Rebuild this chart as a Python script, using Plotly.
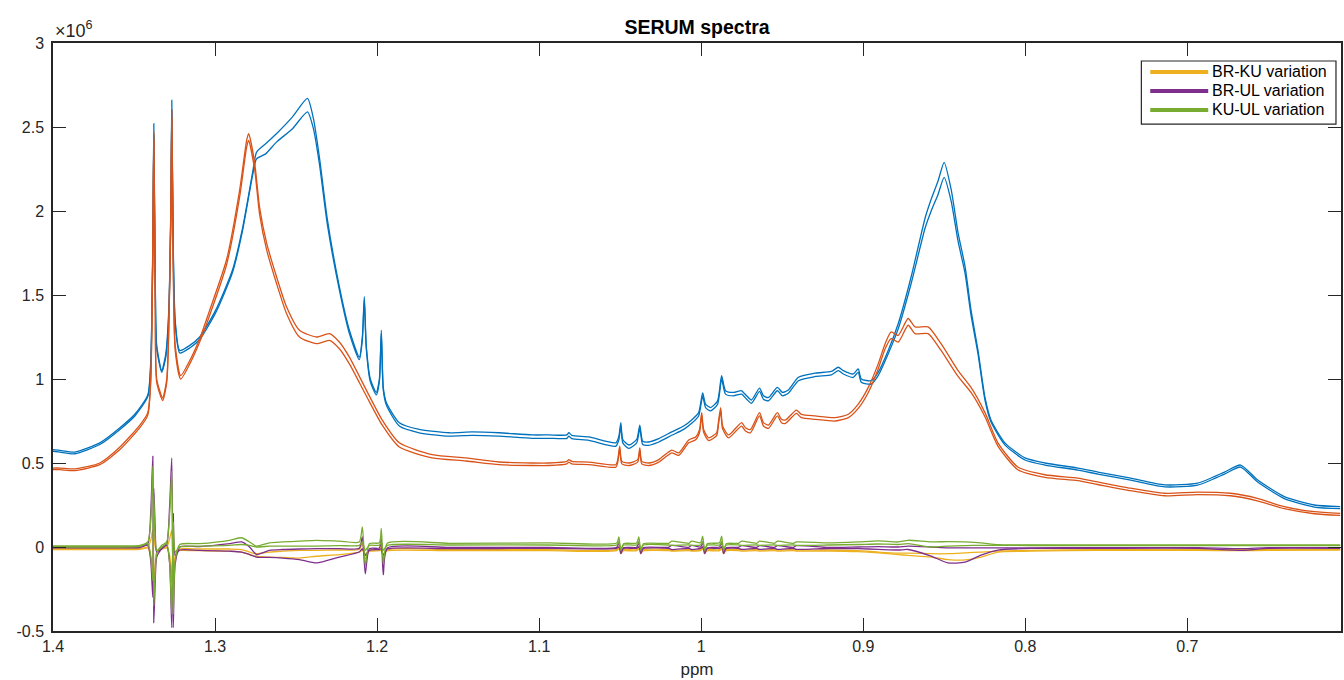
import plotly.graph_objects as go

# ---------------- data (intensity in units of 1e6) ----------------
blue_ppm = [1.4000, 1.3957, 1.3865, 1.3711, 1.3587, 1.3495, 1.3415, 1.3397, 1.3384, 1.3378,
            1.3369, 1.3360, 1.3329, 1.3304, 1.3286, 1.3273, 1.3267, 1.3258, 1.3246, 1.3218,
            1.3156, 1.3095, 1.2996, 1.2892, 1.2830, 1.2768, 1.2744, 1.2688, 1.2621, 1.2522,
            1.2430, 1.2393, 1.2356, 1.2307, 1.2233, 1.2171, 1.2110, 1.2091, 1.2079, 1.2067,
            1.2042, 1.2005, 1.1986, 1.1974, 1.1962, 1.1943, 1.1863, 1.1740, 1.1555, 1.1414,
            1.1248, 1.1044, 1.0940, 1.0829, 1.0817, 1.0798, 1.0693, 1.0527, 1.0508, 1.0496,
            1.0484, 1.0447, 1.0398, 1.0379, 1.0361, 1.0324, 1.0262, 1.0182, 1.0108, 1.0059,
            1.0016, 0.9991, 0.9973, 0.9942, 0.9899, 0.9874, 0.9850, 0.9800, 0.9751, 0.9720,
            0.9690, 0.9640, 0.9616, 0.9585, 0.9530, 0.9499, 0.9462, 0.9400, 0.9296, 0.9197,
            0.9154, 0.9123, 0.9062, 0.9031, 0.9012, 0.8951, 0.8908, 0.8846, 0.8784, 0.8704,
            0.8618, 0.8581, 0.8538, 0.8501, 0.8458, 0.8415, 0.8372, 0.8335, 0.8292, 0.8249,
            0.8212, 0.8126, 0.8002, 0.7879, 0.7676, 0.7553, 0.7350, 0.7140, 0.6937, 0.6771,
            0.6672, 0.6568, 0.6402, 0.6217, 0.6057]
blue_hi = [0.58, 0.575, 0.565, 0.62, 0.71, 0.79, 0.905, 1.10, 1.80, 2.52,
           1.60, 1.20, 1.05, 1.15, 1.40, 2.00, 2.66, 1.80, 1.35, 1.17,
           1.20, 1.25, 1.41, 1.65, 1.90, 2.23, 2.35, 2.40, 2.46, 2.56,
           2.67, 2.55, 2.32, 1.95, 1.55, 1.29, 1.13, 1.25, 1.49, 1.20,
           1.00, 0.92, 1.00, 1.29, 0.95, 0.86, 0.74, 0.70, 0.68, 0.685,
           0.68, 0.667, 0.667, 0.667, 0.68, 0.665, 0.655, 0.62, 0.66, 0.74,
           0.64, 0.607, 0.64, 0.726, 0.63, 0.625, 0.645, 0.685, 0.72, 0.756,
           0.80, 0.917, 0.85, 0.83, 0.87, 1.02, 0.93, 0.92, 0.93, 0.90,
           0.875, 0.946, 0.90, 0.89, 0.95, 0.92, 0.935, 1.01, 1.035, 1.045,
           1.07, 1.05, 1.03, 1.06, 1.00, 0.99, 1.04, 1.17, 1.33, 1.61,
           1.96, 2.07, 2.18, 2.29, 2.13, 1.87, 1.67, 1.41, 1.17, 0.89,
           0.756, 0.62, 0.53, 0.50, 0.47, 0.446, 0.41, 0.37, 0.38, 0.446,
           0.488, 0.40, 0.30, 0.25, 0.24]
blue_lo = [0.57, 0.565, 0.555, 0.61, 0.70, 0.78, 0.895, 1.08, 1.75, 2.45,
           1.55, 1.18, 1.04, 1.13, 1.37, 1.95, 2.60, 1.75, 1.33, 1.155,
           1.185, 1.235, 1.395, 1.635, 1.885, 2.215, 2.31, 2.34, 2.41, 2.49,
           2.59, 2.49, 2.28, 1.92, 1.53, 1.27, 1.115, 1.235, 1.47, 1.185,
           0.985, 0.905, 0.985, 1.27, 0.935, 0.845, 0.72, 0.68, 0.66, 0.665,
           0.66, 0.647, 0.647, 0.647, 0.66, 0.645, 0.635, 0.60, 0.64, 0.72,
           0.62, 0.587, 0.62, 0.706, 0.61, 0.605, 0.625, 0.665, 0.70, 0.736,
           0.78, 0.897, 0.83, 0.81, 0.85, 1.00, 0.91, 0.90, 0.91, 0.88,
           0.855, 0.926, 0.88, 0.87, 0.93, 0.90, 0.915, 0.99, 1.015, 1.025,
           1.05, 1.03, 1.01, 1.04, 0.98, 0.97, 1.02, 1.15, 1.30, 1.57,
           1.90, 2.00, 2.10, 2.20, 2.06, 1.82, 1.63, 1.38, 1.15, 0.875,
           0.745, 0.608, 0.518, 0.488, 0.458, 0.434, 0.398, 0.358, 0.368, 0.434,
           0.476, 0.388, 0.288, 0.238, 0.228]

orange_ppm = [1.4000, 1.3957, 1.3865, 1.3711, 1.3587, 1.3464, 1.3415, 1.3397, 1.3384, 1.3378,
              1.3369, 1.3360, 1.3323, 1.3298, 1.3286, 1.3273, 1.3267, 1.3258, 1.3246, 1.3212,
              1.3156, 1.3095, 1.3033, 1.2929, 1.2849, 1.2805, 1.2793, 1.2756, 1.2725, 1.2682,
              1.2621, 1.2559, 1.2479, 1.2374, 1.2294, 1.2233, 1.2171, 1.2067, 1.1968, 1.1863,
              1.1660, 1.1451, 1.1248, 1.1044, 1.0940, 1.0829, 1.0817, 1.0798, 1.0693, 1.0527,
              1.0515, 1.0503, 1.0490, 1.0447, 1.0392, 1.0379, 1.0367, 1.0324, 1.0262, 1.0182,
              1.0139, 1.0077, 1.0034, 1.0010, 0.9997, 0.9985, 0.9954, 0.9905, 0.9893, 0.9880,
              0.9868, 0.9831, 0.9751, 0.9727, 0.9696, 0.9640, 0.9616, 0.9585, 0.9530, 0.9505,
              0.9480, 0.9413, 0.9382, 0.9296, 0.9172, 0.9092, 0.9031, 0.8969, 0.8908, 0.8865,
              0.8828, 0.8784, 0.8723, 0.8680, 0.8600, 0.8520, 0.8415, 0.8335, 0.8249, 0.8169,
              0.8046, 0.7879, 0.7676, 0.7553, 0.7350, 0.7140, 0.6937, 0.6734, 0.6568, 0.6402,
              0.6217, 0.6057]
orange_hi = [0.47, 0.47, 0.465, 0.50, 0.595, 0.726, 0.80, 1.00, 1.80, 2.47,
             1.50, 1.00, 0.887, 1.00, 1.30, 2.00, 2.60, 1.70, 1.20, 1.02,
             1.11, 1.24, 1.41, 1.71, 2.12, 2.42, 2.46, 2.29, 2.02, 1.81,
             1.61, 1.43, 1.29, 1.25, 1.27, 1.22, 1.13, 0.935, 0.755, 0.62,
             0.55, 0.53, 0.506, 0.50, 0.50, 0.51, 0.52, 0.51, 0.505, 0.49,
             0.52, 0.60, 0.51, 0.50, 0.52, 0.59, 0.51, 0.50, 0.52, 0.577,
             0.56, 0.637, 0.655, 0.70, 0.80, 0.70, 0.65, 0.68, 0.75, 0.83,
             0.72, 0.667, 0.74, 0.71, 0.70, 0.80, 0.74, 0.726, 0.80, 0.76,
             0.756, 0.815, 0.79, 0.78, 0.77, 0.79, 0.85, 0.95, 1.09, 1.21,
             1.28, 1.26, 1.36, 1.31, 1.31, 1.21, 1.05, 0.95, 0.80, 0.62,
             0.476, 0.43, 0.41, 0.387, 0.35, 0.32, 0.327, 0.32, 0.29, 0.24,
             0.21, 0.20]
orange_lo = [0.46, 0.46, 0.455, 0.49, 0.58, 0.71, 0.785, 0.98, 1.75, 2.42,
             1.45, 0.98, 0.872, 0.98, 1.27, 1.95, 2.55, 1.65, 1.17, 1.00,
             1.09, 1.22, 1.38, 1.68, 2.08, 2.38, 2.42, 2.25, 1.98, 1.77,
             1.57, 1.39, 1.25, 1.21, 1.23, 1.18, 1.09, 0.90, 0.725, 0.595,
             0.53, 0.512, 0.49, 0.485, 0.485, 0.495, 0.505, 0.495, 0.49, 0.475,
             0.505, 0.585, 0.495, 0.485, 0.505, 0.575, 0.495, 0.485, 0.505, 0.56,
             0.545, 0.62, 0.638, 0.683, 0.783, 0.683, 0.633, 0.663, 0.733, 0.813,
             0.703, 0.65, 0.72, 0.69, 0.68, 0.78, 0.72, 0.706, 0.78, 0.74,
             0.736, 0.795, 0.77, 0.76, 0.75, 0.77, 0.825, 0.92, 1.06, 1.18,
             1.24, 1.22, 1.32, 1.27, 1.27, 1.17, 1.015, 0.92, 0.775, 0.60,
             0.46, 0.415, 0.395, 0.372, 0.335, 0.305, 0.312, 0.305, 0.275, 0.228,
             0.198, 0.188]

var_ppm = [1.4000, 1.3711, 1.3464, 1.3415, 1.3397, 1.3384, 1.3378, 1.3369, 1.3360, 1.3329,
           1.3298, 1.3280, 1.3267, 1.3258, 1.3246, 1.3218, 1.3095, 1.2910, 1.2836, 1.2787,
           1.2744, 1.2664, 1.2584, 1.2479, 1.2374, 1.2233, 1.2110, 1.2091, 1.2073, 1.2048,
           1.1986, 1.1974, 1.1962, 1.1937, 1.1555, 1.0940, 1.0521, 1.0508, 1.0496, 1.0478,
           1.0398, 1.0385, 1.0373, 1.0355, 1.0201, 1.0182, 1.0077, 1.0059, 1.0004, 0.9991,
           0.9979, 0.9961, 0.9887, 0.9874, 0.9862, 0.9844, 0.9770, 0.9751, 0.9659, 0.9640,
           0.9548, 0.9530, 0.9431, 0.9413, 0.9216, 0.9031, 0.8908, 0.8784, 0.8723, 0.8581,
           0.8477, 0.8372, 0.8273, 0.8169, 0.7966, 0.7553, 0.6937, 0.6660, 0.6506, 0.6057]
brku_a = [-0.010, -0.010, -0.008, 0.000, 0.040, 0.100, -0.200, -0.100, -0.030, -0.010,
          0.000, 0.050, 0.100, -0.200, -0.050, -0.012, -0.012, -0.012, -0.015, -0.030,
          -0.040, -0.030, -0.025, -0.020, -0.020, -0.018, -0.015, 0.020, -0.070, -0.020,
          -0.015, 0.020, -0.070, -0.018, -0.016, -0.016, -0.016, 0.000, -0.040, -0.016,
          -0.016, 0.000, -0.040, -0.016, -0.016, -0.020, -0.016, -0.020, -0.016, 0.000,
          -0.040, -0.016, -0.016, 0.000, -0.040, -0.016, -0.016, -0.018, -0.016, -0.018,
          -0.016, -0.018, -0.016, -0.018, -0.018, -0.022, -0.030, -0.036, -0.036, -0.040,
          -0.040, -0.035, -0.030, -0.025, -0.020, -0.016, -0.015, -0.016, -0.015, -0.014]
brku_b = [-0.016, -0.016, -0.014, -0.006, -0.060, -0.230, 0.080, 0.000, -0.020, -0.012,
          -0.005, -0.050, -0.210, 0.000, -0.030, -0.020, -0.022, -0.025, -0.030, -0.045,
          -0.055, -0.060, -0.062, -0.066, -0.055, -0.045, -0.030, -0.020, -0.040, -0.025,
          -0.022, -0.020, -0.040, -0.022, -0.022, -0.022, -0.022, -0.010, -0.030, -0.022,
          -0.022, -0.010, -0.030, -0.022, -0.022, -0.024, -0.022, -0.024, -0.022, -0.010,
          -0.030, -0.022, -0.022, -0.010, -0.030, -0.022, -0.022, -0.024, -0.022, -0.024,
          -0.022, -0.024, -0.022, -0.024, -0.024, -0.028, -0.035, -0.045, -0.050, -0.060,
          -0.075, -0.077, -0.060, -0.030, -0.025, -0.020, -0.020, -0.022, -0.020, -0.018]
brul_a = [0.000, 0.000, 0.004, 0.020, 0.200, 0.540, -0.450, -0.200, -0.060, -0.010,
          0.020, 0.250, 0.530, -0.480, -0.100, 0.000, 0.002, 0.020, 0.030, 0.000,
          -0.045, -0.020, -0.015, -0.012, -0.010, -0.010, -0.008, 0.060, -0.160, -0.010,
          -0.006, 0.050, -0.165, -0.006, -0.003, -0.002, -0.002, 0.030, -0.040, -0.004,
          -0.002, 0.030, -0.040, -0.004, -0.002, 0.010, -0.002, 0.010, 0.000, 0.030,
          -0.040, -0.004, 0.000, 0.030, -0.040, -0.004, -0.002, 0.008, -0.002, 0.008,
          -0.002, 0.008, -0.002, 0.008, -0.003, 0.000, 0.002, 0.000, 0.005, 0.000,
          -0.005, -0.005, -0.005, -0.005, -0.005, -0.004, -0.004, -0.010, -0.004, -0.004]
brul_b = [-0.005, -0.005, -0.003, 0.010, -0.080, -0.300, 0.350, 0.100, -0.030, -0.010,
          0.010, -0.100, -0.480, 0.200, -0.050, -0.018, -0.020, -0.025, -0.030, -0.045,
          -0.060, -0.062, -0.066, -0.075, -0.095, -0.060, -0.030, -0.010, -0.050, -0.020,
          -0.015, -0.010, -0.050, -0.012, -0.010, -0.008, -0.008, 0.000, -0.020, -0.008,
          -0.008, 0.000, -0.020, -0.008, -0.008, -0.015, -0.008, -0.015, -0.008, 0.000,
          -0.020, -0.008, -0.008, 0.000, -0.020, -0.008, -0.008, -0.014, -0.008, -0.014,
          -0.008, -0.014, -0.008, -0.014, -0.009, -0.010, -0.014, -0.018, -0.015, -0.054,
          -0.095, -0.090, -0.048, -0.018, -0.008, -0.008, -0.008, -0.020, -0.008, -0.008]
kuul_a = [0.006, 0.006, 0.010, 0.030, 0.150, 0.480, -0.350, -0.150, -0.040, 0.010,
          0.030, 0.200, 0.450, -0.400, -0.080, 0.015, 0.020, 0.040, 0.055, 0.030,
          0.005, 0.025, 0.030, 0.035, 0.040, 0.035, 0.030, 0.120, -0.110, 0.020,
          0.025, 0.110, -0.100, 0.022, 0.022, 0.024, 0.024, 0.060, -0.020, 0.020,
          0.024, 0.060, -0.020, 0.020, 0.022, 0.035, 0.022, 0.035, 0.025, 0.065,
          -0.020, 0.020, 0.025, 0.065, -0.020, 0.020, 0.022, 0.035, 0.022, 0.035,
          0.022, 0.035, 0.022, 0.030, 0.024, 0.030, 0.036, 0.030, 0.040, 0.030,
          0.032, 0.030, 0.025, 0.014, 0.013, 0.012, 0.012, 0.012, 0.012, 0.012]
kuul_b = [0.000, 0.000, 0.004, 0.020, -0.050, -0.200, 0.300, 0.050, -0.020, 0.000,
          0.020, -0.100, -0.400, 0.150, -0.030, 0.000, 0.005, 0.010, 0.015, 0.010,
          0.000, 0.005, 0.005, 0.005, 0.005, 0.008, 0.010, 0.030, -0.020, 0.010,
          0.010, 0.030, -0.020, 0.010, 0.012, 0.012, 0.012, 0.030, -0.010, 0.012,
          0.012, 0.030, -0.010, 0.012, 0.012, 0.010, 0.012, 0.010, 0.012, 0.030,
          -0.010, 0.012, 0.012, 0.030, -0.010, 0.012, 0.012, 0.010, 0.012, 0.010,
          0.012, 0.010, 0.012, 0.010, 0.012, 0.015, 0.018, 0.015, 0.020, 0.000,
          0.005, 0.008, 0.010, 0.010, 0.009, 0.008, 0.008, 0.008, 0.008, 0.008]

legend_names = ["BR-KU variation", "BR-UL variation", "KU-UL variation"]
x_ticks = [1.4, 1.3, 1.2, 1.1, 1.0, 0.9, 0.8, 0.7]
x_tick_text = ["1.4", "1.3", "1.2", "1.1", "1", "0.9", "0.8", "0.7"]
y_ticks = [-0.5, 0, 0.5, 1, 1.5, 2, 2.5, 3]
y_tick_text = ["-0.5", "0", "0.5", "1", "1.5", "2", "2.5", "3"]

# ---------------- styling ----------------
BLUE = "#0072BD"
ORANGE = "#D95319"
YELLOW = "#EDB120"
PURPLE = "#7E2F8E"
GREEN = "#77AC30"
AXC = "#262626"
FONT = "Liberation Sans, Arial, Helvetica, sans-serif"
LW = 1.3

fig = go.Figure()

for ppm, ys, col in [(blue_ppm, blue_hi, BLUE), (blue_ppm, blue_lo, BLUE),
                     (orange_ppm, orange_hi, ORANGE), (orange_ppm, orange_lo, ORANGE),
                     (var_ppm, brku_a, YELLOW), (var_ppm, brku_b, YELLOW),
                     (var_ppm, brul_a, PURPLE), (var_ppm, brul_b, PURPLE),
                     (var_ppm, kuul_a, GREEN), (var_ppm, kuul_b, GREEN)]:
    fig.add_trace(go.Scatter(x=ppm, y=ys, mode="lines",
                             line=dict(color=col, width=LW, shape="spline", smoothing=0.6),
                             showlegend=False, hoverinfo="skip"))

# ---- legend drawn in paper coordinates (box, colour samples, labels) ----
shapes = [dict(type="rect", xref="paper", yref="paper", x0=0.845, x1=0.9961,
               y0=0.8622, y1=0.9694, line=dict(color=AXC, width=1.2),
               fillcolor="white", layer="above")]
annotations = []
row_y = [0.9507, 0.9184, 0.8861]
for name, col, yy in zip(legend_names, [YELLOW, PURPLE, GREEN], row_y):
    shapes.append(dict(type="line", xref="paper", yref="paper", x0=0.8519, x1=0.8969,
                       y0=yy, y1=yy, line=dict(color=col, width=4), layer="above"))
    annotations.append(dict(text=name, xref="paper", yref="paper", x=0.8985, y=yy,
                            xanchor="left", yanchor="middle", showarrow=False,
                            font=dict(family=FONT, size=16, color="black")))

annotations.append(dict(text="×10<sup>6</sup>", xref="paper", yref="paper",
                        x=0.0, y=1.0, xanchor="left", yanchor="bottom", yshift=0,
                        showarrow=False, font=dict(family=FONT, size=18, color=AXC)))

fig.update_layout(
    width=1344, height=680,
    margin=dict(l=53, r=1, t=43, b=49),
    paper_bgcolor="white", plot_bgcolor="white",
    font=dict(family=FONT, size=16, color=AXC),
    title=dict(text="<b>SERUM spectra</b>", x=0.5, xref="paper", xanchor="center",
               y=1 - 27 / 680, yref="container", yanchor="middle",
               font=dict(family=FONT, size=19.5, color="black")),
    showlegend=False,
    xaxis=dict(range=[1.4, 0.6052], autorange=False,
               tickvals=x_ticks, ticktext=x_tick_text,
               ticks="inside", ticklen=13, tickwidth=1.3, tickcolor=AXC,
               showline=True, linecolor=AXC, linewidth=1.5, mirror="ticks",
               showgrid=False, zeroline=False,
               tickfont=dict(family=FONT, size=16, color=AXC),
               title=dict(text="ppm", standoff=9, font=dict(family=FONT, size=17, color=AXC))),
    yaxis=dict(range=[-0.5, 3], autorange=False,
               tickvals=y_ticks, ticktext=y_tick_text,
               ticks="inside", ticklen=13, tickwidth=1.3, tickcolor=AXC,
               showline=True, linecolor=AXC, linewidth=1.5, mirror="ticks",
               showgrid=False, zeroline=False, ticklabelstandoff=4,
               tickfont=dict(family=FONT, size=16, color=AXC)),
    shapes=shapes,
    annotations=annotations,
)

fig.write_html("out.html")
